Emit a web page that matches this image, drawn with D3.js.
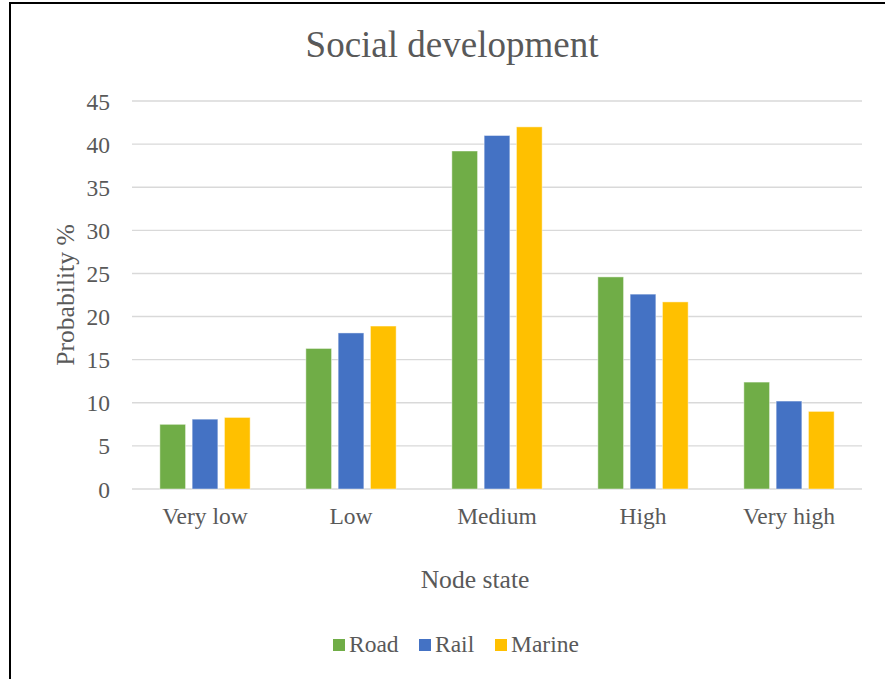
<!DOCTYPE html>
<html>
<head>
<meta charset="utf-8">
<script src="https://cdn.jsdelivr.net/npm/d3@7"></script>
<style>
  html, body { margin: 0; padding: 0; background: #fff; }
  svg { display: block; }
  text { font-family: "Liberation Serif", "Times New Roman", serif; fill: #595959; }
</style>
</head>
<body>
<svg id="chart" width="885" height="679"></svg>
<script>
// Node states on the category axis
const categories = ["Very low", "Low", "Medium", "High", "Very high"];
// Transport modes (series)
const seriesNames = ["Road", "Rail", "Marine"];
const seriesColors = ["#70AD47", "#4472C4", "#FFC000"];
// Probability (%) per node state
const roadValues = [7.5, 16.3, 39.2, 24.6, 12.4];
const railValues = [8.1, 18.1, 41.0, 22.6, 10.2];
const marineValues = [8.3, 18.9, 42.0, 21.7, 9.0];
// Value axis ticks
const yTicks = [0, 5, 10, 15, 20, 25, 30, 35, 40, 45];

const seriesValues = [roadValues, railValues, marineValues];

const svg = d3.select("#chart");
const plot = { left: 132, right: 862, top: 101, bottom: 489 };

// Chart frame
svg.append("rect")
  .attr("x", 10).attr("y", 3)
  .attr("width", 900).attr("height", 700)
  .attr("fill", "none").attr("stroke", "#000").attr("stroke-width", 2);

const x = d3.scaleBand().domain(categories).range([plot.left, plot.right]).padding(0);
const groupWidth = 90.3;
const xs = d3.scaleBand().domain(seriesNames).range([-groupWidth / 2, groupWidth / 2]).paddingInner(0.204).paddingOuter(0);
const y = d3.scaleLinear().domain([0, 45]).range([plot.bottom, plot.top]);

// Gridlines
svg.append("g")
  .selectAll("line")
  .data(yTicks)
  .join("line")
  .attr("x1", plot.left).attr("x2", plot.right)
  .attr("y1", d => y(d)).attr("y2", d => y(d))
  .attr("stroke", "#D9D9D9").attr("stroke-width", 1.4);

// Y axis tick labels
const yAxis = d3.axisLeft(y).tickValues(yTicks).tickSize(0).tickPadding(0);
const yg = svg.append("g").attr("transform", `translate(110,0)`).call(yAxis);
yg.select(".domain").remove();
yg.selectAll("text")
  .attr("font-family", "Liberation Serif")
  .attr("font-size", 23.5)
  .attr("fill", "#595959")
  .attr("dy", "0.34em");

// Bars
const groups = svg.append("g")
  .selectAll("g")
  .data(seriesNames.map((name, i) => ({ name, color: seriesColors[i], values: seriesValues[i] })))
  .join("g")
  .attr("fill", d => d.color);

groups.selectAll("rect")
  .data(d => d.values.map((v, j) => ({ name: d.name, cat: categories[j], v })))
  .join("rect")
  .attr("x", d => x(d.cat) + x.bandwidth() / 2 + xs(d.name))
  .attr("width", xs.bandwidth())
  .attr("y", d => y(d.v))
  .attr("height", d => y(0) - y(d.v))
  .attr("stroke", "rgba(255,255,255,0.45)")
  .attr("stroke-width", 1);

// X axis category labels
const xAxis = d3.axisBottom(x).tickSize(0).tickPadding(0);
const xg = svg.append("g").attr("transform", `translate(0,${plot.bottom})`).call(xAxis);
xg.select(".domain").remove();
xg.selectAll("text")
  .attr("font-family", "Liberation Serif")
  .attr("font-size", 23.5)
  .attr("fill", "#595959")
  .attr("y", 35)
  .attr("dy", 0);

// Title
svg.append("text")
  .attr("x", 452).attr("y", 57)
  .attr("text-anchor", "middle")
  .attr("font-size", 37)
  .text("Social development");

// Axis titles
svg.append("text")
  .attr("x", 475).attr("y", 588)
  .attr("text-anchor", "middle")
  .attr("font-size", 25.6)
  .text("Node state");

svg.append("text")
  .attr("transform", `translate(74,295) rotate(-90)`)
  .attr("text-anchor", "middle")
  .attr("font-size", 25.6)
  .text("Probability %");

// Legend
const legendX = [333, 419, 495];
const legend = svg.append("g")
  .selectAll("g")
  .data(seriesNames)
  .join("g")
  .attr("transform", (d, i) => `translate(${legendX[i]},639)`);
legend.append("rect")
  .attr("width", 12).attr("height", 12)
  .attr("fill", (d, i) => seriesColors[i]);
legend.append("text")
  .attr("x", 16).attr("y", 13)
  .attr("font-size", 23.5)
  .text(d => d);
</script>
</body>
</html>
